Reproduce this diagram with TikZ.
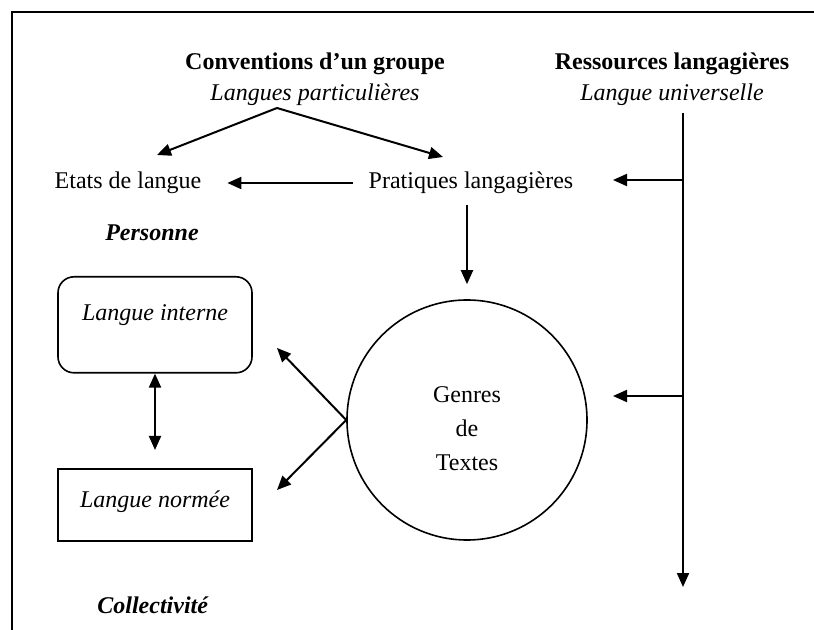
\documentclass[tikz,border=0pt]{standalone}
\usepackage{fontspec}
\setmainfont{Liberation Serif}
\usetikzlibrary{arrows.meta}
\tikzset{
  fleche/.style={line width=1pt, -{Triangle[length=7pt,width=6pt]}},
  dfleche/.style={line width=1pt, {Triangle[length=7pt,width=6pt]}-{Triangle[length=7pt,width=6pt]}},
  boite/.style={draw, line width=0.8pt, minimum width=97pt, inner sep=0pt, anchor=north},
}
\begin{document}
\begin{tikzpicture}[x=0.5pt, y=-0.5pt, font=\fontsize{12}{17}\selectfont]
        \useasboundingbox (0,0) rectangle (814,630);
        \draw[line width=1.2pt] (814,12) -- (12,12) -- (12,630); % cadre

        % titres
        \node (conv) at (315,64) {\textbf{Conventions d’un groupe}};
        \node (part) at (315,95) {\textit{Langues particulières}};
        \node (ress) at (672,64) {\textbf{Ressources langagières}};
        \node (univ) at (672,95) {\textit{Langue universelle}};

        \node (etats) at (128,183) {Etats de langue};
        \node (prat) at (471,183) {Pratiques langagières};
        \node (pers) at (152,233) {\textbf{\textit{Personne}}};
        \node (coll) at (153,605) {\textbf{\textit{Collectivité}}};

        \node[boite, rounded corners=8pt, text height=22pt, text depth=26pt] (interne) at (155,276) {\textit{Langue interne}};
        \node[boite, text height=19.5pt, text depth=16.5pt] (normee) at (155,468) {\textit{Langue normée}};
        \node[draw, circle, line width=0.8pt, minimum size=120pt, inner sep=0pt] (genres) at (467,420) {};
        \node[align=center, yshift=-4.5pt] (gtexte) at (genres.center) {Genres\\de\\Textes};

        \coordinate (split) at (277,108);
        \coordinate (tipE) at (157,155);
        \coordinate (tipP) at (443,157);
        \coordinate (bas) at (683,587);
        \coordinate (r1) at (613,180);
        \coordinate (r2) at (613,396);
        \coordinate (g1) at (277,348);
        \coordinate (g2) at (277,490);

        \draw[fleche] (split) -- (tipE); % langues particulieres
        \draw[fleche] (split) -- (tipP);
        \draw[fleche, shorten <=4.5pt, shorten >=9.5pt] (prat.west) -- (etats.east);
        \draw[fleche, shorten <=2pt, shorten >=7.5pt] (genres.north |- prat.south) -- (genres.north);

        % ressources
        \draw[fleche] (univ.south -| bas) -- (bas);
        \draw[fleche] (bas |- r1) -- (r1);
        \draw[fleche] (bas |- r2) -- (r2);

        \draw[fleche] (genres.west) -- (g1);
        \draw[fleche] (genres.west) -- (g2);
        \draw[dfleche, shorten >=9pt] (interne.south) -- (normee.north);
\end{tikzpicture}
\end{document}
